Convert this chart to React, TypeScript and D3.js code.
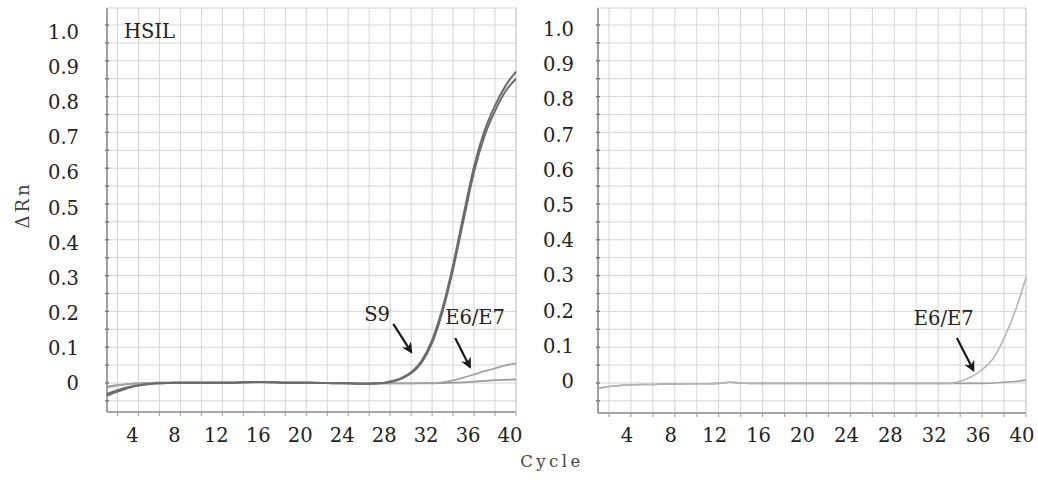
import React from 'react';
import * as d3 from 'd3';

// ---------- data (cycles 1..40) ----------
const cycles = d3.range(1, 41);
const xTickLabels = [4, 8, 12, 16, 20, 24, 28, 32, 36, 40];
const yTickLabels = ['1.0', '0.9', '0.8', '0.7', '0.6', '0.5', '0.4', '0.3', '0.2', '0.1', '0'];
const yTickValues = [1.0, 0.9, 0.8, 0.7, 0.6, 0.5, 0.4, 0.3, 0.2, 0.1, 0];

// Left panel (HSIL)
const leftS9a = [-0.035, -0.024, -0.014, -0.007, -0.003, -0.001, 0.0, 0.001, 0.001, 0.001,
  0.001, 0.001, 0.001, 0.002, 0.003, 0.003, 0.002, 0.001, 0.001, 0.001,
  0.0, 0.0, -0.001, -0.001, -0.002, -0.002, -0.001, 0.004, 0.013, 0.03,
  0.062, 0.12, 0.21, 0.33, 0.47, 0.605, 0.705, 0.775, 0.83, 0.87];
const leftS9b = [-0.03, -0.02, -0.012, -0.006, -0.003, -0.001, 0.0, 0.001, 0.001, 0.001,
  0.001, 0.001, 0.001, 0.002, 0.003, 0.003, 0.002, 0.001, 0.001, 0.001,
  0.0, 0.0, -0.001, -0.001, -0.002, -0.002, -0.001, 0.003, 0.011, 0.027,
  0.057, 0.112, 0.2, 0.318, 0.455, 0.59, 0.69, 0.76, 0.815, 0.85];
const leftE6E7a = [-0.012, -0.007, -0.003, -0.001, 0.0, 0.001, 0.001, 0.001, 0.001, 0.001,
  0.001, 0.001, 0.001, 0.002, 0.002, 0.002, 0.002, 0.001, 0.001, 0.001,
  0.001, 0.0, 0.0, -0.001, -0.001, -0.001, -0.001, -0.001, -0.001, -0.001,
  0.0, 0.0, 0.002, 0.007, 0.015, 0.024, 0.033, 0.041, 0.049, 0.055];
const leftE6E7b = [-0.01, -0.006, -0.003, -0.001, 0.0, 0.001, 0.001, 0.001, 0.001, 0.001,
  0.001, 0.001, 0.001, 0.002, 0.002, 0.002, 0.002, 0.001, 0.001, 0.001,
  0.001, 0.0, 0.0, -0.001, -0.001, -0.001, -0.001, -0.001, -0.001, -0.001,
  -0.001, -0.001, 0.0, 0.001, 0.002, 0.004, 0.006, 0.008, 0.009, 0.01];

// Right panel
const rightBase = [-0.015, -0.01, -0.007, -0.005, -0.004, -0.004, -0.003, -0.003, -0.002, -0.002,
  -0.002, -0.001, 0.002, 0.0, -0.001, -0.001, -0.001, -0.001, -0.001, -0.001,
  -0.001, -0.001, -0.001, -0.001, -0.001, -0.001, -0.001, -0.001, -0.001, -0.001,
  -0.001, -0.001, -0.001, -0.001, -0.001, -0.001, 0.0, 0.002, 0.004, 0.008];
const rightE6E7 = [-0.015, -0.01, -0.007, -0.005, -0.004, -0.004, -0.003, -0.003, -0.002, -0.002,
  -0.002, -0.001, 0.002, 0.0, -0.001, -0.001, -0.001, -0.001, -0.001, -0.001,
  -0.001, -0.001, -0.001, -0.001, -0.001, -0.001, -0.001, -0.001, -0.001, -0.001,
  -0.001, -0.001, -0.001, 0.005, 0.017, 0.037, 0.068, 0.125, 0.2, 0.295];

// annotations: [label, labelCycle, labelValue, arrowFromCycle, arrowFromValue, arrowToCycle, arrowToValue]
const leftNotes: [string, number, number, number, number, number, number][] = [
  ['S9', 26.75, 0.173, 28.3, 0.165, 30.0, 0.087],
  ['E6/E7', 36.1, 0.165, 34.2, 0.126, 35.6, 0.045],
];
const rightNotes: [string, number, number, number, number, number, number][] = [
  ['E6/E7', 32.5, 0.162, 33.7, 0.126, 35.2, 0.036],
];

type Series = { values: number[]; color: string; width: number };

const FONT = '"DejaVu Serif", serif';

function Panel(props: {
  x0: number; x1: number; yTop: number; yBottom: number;
  zeroY: number; labelZero: number; labelOne: number; labelRight: number; xLabelDx: number;
  series: Series[]; notes: typeof leftNotes; title?: string;
}) {
  const { x0, x1, yTop, yBottom, zeroY, labelZero, labelOne, labelRight, xLabelDx, series, notes, title } = props;
  const x = d3.scaleLinear().domain([1, 40]).range([x0, x1]);
  const perUnit = 358;
  const y = d3.scaleLinear().domain([(zeroY - yBottom) / perUnit, (zeroY - yTop) / perUnit]).range([yBottom, yTop]);
  const yLab = d3.scaleLinear().domain([0, 1]).range([labelZero, labelOne]);
  const line = d3.line<number>().x((_, i) => x(cycles[i])).y(d => y(d)).curve(d3.curveMonotoneX);
  const hGrid = d3.range(-0.05, 1.0001, 0.05);
  const vGrid = d3.range(2, 39, 2);
  const bTicks = d3.range(2, 41, 2);

  return (
    <g>
      <rect x={x0} y={yTop} width={x1 - x0} height={yBottom - yTop} fill="#fff" />
      {hGrid.map((v, i) => (
        <line key={'h' + i} x1={x0} x2={x1} y1={y(v)} y2={y(v)} stroke="#d6d6d6" strokeWidth={1} />
      ))}
      {vGrid.map((c) => (
        <line key={'v' + c} x1={x(c)} x2={x(c)} y1={yTop} y2={yBottom} stroke="#d6d6d6" strokeWidth={1} />
      ))}
      {/* borders */}
      <line x1={x0} x2={x1} y1={yTop} y2={yTop} stroke="#aaa" strokeWidth={1} strokeDasharray="1,1" />
      <line x1={x1} x2={x1} y1={yTop} y2={yBottom} stroke="#bbb" strokeWidth={1} />
      <line x1={x0} x2={x0} y1={yTop} y2={yBottom} stroke="#8a8a8a" strokeWidth={1.6} />
      <line x1={x0} x2={x1} y1={yBottom} y2={yBottom} stroke="#8a8a8a" strokeWidth={1.6} />
      {hGrid.map((v, i) => (
        <line key={'lt' + i} x1={x0 - 2} x2={x0 + 2} y1={y(v)} y2={y(v)} stroke="#777" strokeWidth={1.4} />
      ))}
      {bTicks.map((c) => (
        <line key={'bt' + c} x1={x(c)} x2={x(c)} y1={yBottom + 1} y2={yBottom + 4} stroke="#999" strokeWidth={1} />
      ))}
      {/* curves */}
      {series.map((s, i) => (
        <path key={'s' + i} d={line(s.values) || ''} fill="none" stroke={s.color} strokeWidth={s.width} />
      ))}
      {/* y labels */}
      {yTickValues.map((v, i) => (
        <text key={'yl' + i} x={labelRight} y={yLab(v)} dy="0.36em" textAnchor="end"
          fontFamily={FONT} fontSize={19.5} fill="#222">{yTickLabels[i]}</text>
      ))}
      {/* x labels */}
      {xTickLabels.map((c) => (
        <text key={'xl' + c} x={x(c) + xLabelDx} y={442} textAnchor="middle"
          fontFamily={FONT} fontSize={19.5} fill="#222">{c}</text>
      ))}
      {title && (
        <text x={x0 + 17} y={38} fontFamily={FONT} fontSize={19.5} fill="#222">{title}</text>
      )}
      {notes.map((n, i) => (
        <g key={'n' + i}>
          <text x={x(n[1])} y={y(n[2])} textAnchor="middle" fontFamily={FONT} fontSize={19.5} fill="#222">{n[0]}</text>
          <line x1={x(n[3])} y1={y(n[4])} x2={x(n[5])} y2={y(n[6])} stroke="#1a1a1a" strokeWidth={2.2}
            markerEnd="url(#arrowHead)" />
        </g>
      ))}
    </g>
  );
}

export default function App() {
  const S9 = '#6c6c6c';
  const LIGHT = '#a4a4a4';
  return (
    <svg width={1038} height={482} style={{ position: 'absolute', left: 0, top: 0, background: '#fff' }}>
      <defs>
        <marker id="arrowHead" viewBox="0 0 10 10" refX={8} refY={5} markerWidth={5} markerHeight={5}
          orient="auto" markerUnits="strokeWidth">
          <path d="M0,0 L10,5 L0,10 L3,5 z" fill="#1a1a1a" />
        </marker>
      </defs>
      <rect x={0} y={0} width={1038} height={482} fill="#fff" />
      <Panel x0={107} x1={516} yTop={8} yBottom={412} zeroY={383} labelZero={383} labelOne={32}
        labelRight={79} xLabelDx={-6} title="HSIL" notes={leftNotes}
        series={[
          { values: leftE6E7b, color: '#9a9a9a', width: 1.8 },
          { values: leftE6E7a, color: LIGHT, width: 1.8 },
          { values: leftS9b, color: S9, width: 2 },
          { values: leftS9a, color: S9, width: 2 },
        ]} />
      <Panel x0={598} x1={1026} yTop={8} yBottom={413} zeroY={383} labelZero={381} labelOne={29}
        labelRight={574} xLabelDx={-4} notes={rightNotes}
        series={[
          { values: rightBase, color: '#a0a0a0', width: 1.6 },
          { values: rightE6E7, color: '#b4b4b4', width: 1.6 },
        ]} />
      <text transform="translate(29,205) rotate(-90)" textAnchor="middle" fontFamily={FONT} fontSize={18}
        letterSpacing={3} fill="#444">ΔRn</text>
      <text x={552} y={467} textAnchor="middle" fontFamily={FONT} fontSize={16.5} letterSpacing={3.5}
        fill="#444">Cycle</text>
    </svg>
  );
}
